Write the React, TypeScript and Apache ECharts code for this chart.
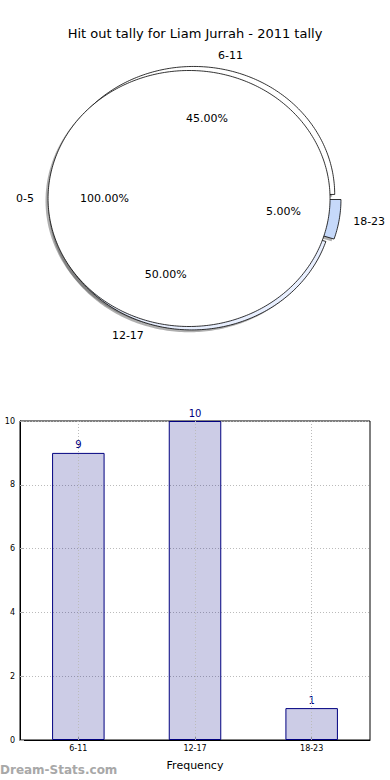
import React, { useEffect, useRef } from "react";
import * as echarts from "echarts";

const titleText = "Hit out tally for Liam Jurrah - 2011 tally";
const pieLabels = ["0-5", "6-11", "12-17", "18-23"];
const pieFractions = [1.0, 0.45, 0.5, 0.05];
const pieColors = ["#ffffff", "#ffffff", "#e8efff", "#c6d9fa"];
const pieExplode = [0.028, 0.032, 0.028, 0.05];

const barCategories = ["6-11", "12-17", "18-23"];
const barValues = [9, 10, 1];
const yTicks = { min: 0, max: 10, interval: 2 };

const FONT = "DejaVu Sans";

export default function App() {
  const ref = useRef<HTMLDivElement>(null);
  useEffect(() => {
    if (!ref.current) return;
    const chart = echarts.init(ref.current, null, { renderer: "svg" });

    const rx = 141;
    const ry = 128;
    const cx0 = 193;
    const cy0 = 198.5;
    const starts: number[] = [];
    let acc = 0;
    pieFractions.forEach((f) => {
      starts.push(acc);
      acc += f * 360;
    });
    const rad = (d: number) => (d * Math.PI) / 180;

    const geom = (i: number) => {
      const t0 = starts[i];
      const t1 = t0 + pieFractions[i] * 360;
      const mid = rad((t0 + t1) / 2);
      const e = pieExplode[i];
      const cx = cx0 + e * rx * Math.cos(mid);
      const cy = cy0 - e * ry * Math.sin(mid);
      const full = pieFractions[i] >= 0.999;
      const pts: number[][] = [];
      if (!full) pts.push([cx, cy]);
      const n = Math.max(2, Math.ceil(t1 - t0));
      for (let k = 0; k <= n; k++) {
        const a = rad(t0 + ((t1 - t0) * k) / n);
        pts.push([cx + rx * Math.cos(a), cy - ry * Math.sin(a)]);
      }
      return { cx, cy, mid, pts, full };
    };

    const drawOrder = (i: number) => (pieFractions[i] >= 0.999 ? 50 : 10 + i);

    const renderItem = (params: any) => {
      const i = params.dataIndex;
      const g = geom(i);
      const shadowPts = g.pts.map((p) => [p[0] - 0.018 * rx, p[1] + 0.018 * ry]);
      const pctX = g.cx + 0.6 * rx * Math.cos(g.mid);
      const pctY = g.cy - 0.6 * ry * Math.sin(g.mid);
      const lx = g.cx + 1.1 * rx * Math.cos(g.mid);
      const ly = g.cy - 1.1 * ry * Math.sin(g.mid);
      const pct = (pieFractions[i] * 100).toFixed(2) + "%";
      return {
        type: "group",
        children: [
          {
            type: "polygon",
            z2: 1,
            shape: { points: shadowPts },
            style: { fill: "rgba(77,77,77,0.45)", stroke: "none" },
          },
          {
            type: "polygon",
            z2: drawOrder(i),
            shape: { points: g.pts },
            style: { fill: pieColors[i], stroke: "#000", lineWidth: 0.8 },
          },
          {
            type: "text",
            z2: 100,
            x: pctX,
            y: pctY,
            style: {
              text: pct,
              fontFamily: FONT,
              fontSize: 11,
              fill: "#000",
              align: "center",
              verticalAlign: "middle",
            },
          },
          {
            type: "text",
            z2: 100,
            x: lx,
            y: ly,
            style: {
              text: pieLabels[i],
              fontFamily: FONT,
              fontSize: 11,
              fill: "#000",
              align: Math.cos(g.mid) > 0 ? "left" : "right",
              verticalAlign: "middle",
            },
          },
        ],
      };
    };

    chart.setOption({
      animation: false,
      backgroundColor: "#fff",
      title: {
        text: titleText,
        left: "center",
        top: 22,
        textStyle: { fontFamily: FONT, fontSize: 13, fontWeight: "normal", color: "#000" },
      },
      grid: {
        left: 20,
        right: 20,
        top: 421,
        height: 319,
        containLabel: false,
        outerBoundsMode: "none",
        show: true,
        borderColor: "#000",
        borderWidth: 1,
        backgroundColor: "transparent",
      },
      xAxis: {
        type: "category",
        data: barCategories,
        name: "Frequency",
        nameLocation: "middle",
        nameGap: 20,
        nameTextStyle: { fontFamily: FONT, fontSize: 11, color: "#000" },
        axisLine: { show: true, lineStyle: { color: "#000", width: 1 } },
        axisTick: { show: true, inside: true, alignWithLabel: true, length: 4, lineStyle: { color: "#aaa" } },
        axisLabel: { fontFamily: FONT, fontSize: 8, color: "#000", margin: 4 },
        splitLine: { show: false },
      },
      yAxis: {
        type: "value",
        min: yTicks.min,
        max: yTicks.max,
        interval: yTicks.interval,
        name: "Hit Out Tally",
        nameLocation: "middle",
        nameGap: 24,
        nameTextStyle: { fontFamily: FONT, fontSize: 9, color: "#000" },
        axisLine: { show: true, lineStyle: { color: "#000", width: 1 } },
        axisTick: { show: true, inside: true, length: 4, lineStyle: { color: "#aaa" } },
        axisLabel: { fontFamily: FONT, fontSize: 8, color: "#000", margin: 5 },
        splitLine: { show: true, lineStyle: { color: "#bbb", type: [1, 2], width: 1 } },
      },
      series: [
        {
          type: "custom",
          coordinateSystem: "none",
          data: pieFractions.map((v, i) => [i, v]),
          renderItem,
          silent: true,
        },
        {
          type: "bar",
          data: barValues,
          barWidth: "45%",
          itemStyle: { color: "rgba(0,0,128,0.2)", borderColor: "#000080", borderWidth: 1 },
          label: {
            show: true,
            position: "top",
            distance: 3,
            fontFamily: FONT,
            fontSize: 10,
            color: "#000080",
          },
          markLine: {
            silent: true,
            symbol: "none",
            label: { show: false },
            lineStyle: { color: "#bbb", type: [1, 2], width: 1 },
            data: barCategories.map((c) => ({ xAxis: c })),
          },
        },
      ],
      graphic: [
        {
          type: "text",
          left: 0,
          top: 764,
          style: {
            text: "Dream-Stats.com",
            fontFamily: FONT,
            fontSize: 12,
            fontWeight: "bold",
            fill: "#a8a8a8",
          },
        },
      ],
    });
    return () => chart.dispose();
  }, []);
  return (
    <div
      ref={ref}
      style={{ position: "absolute", left: 0, top: 0, width: 390, height: 780 }}
    />
  );
}
